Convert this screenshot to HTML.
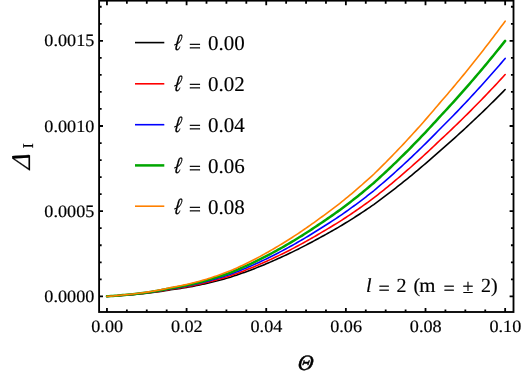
<!DOCTYPE html>
<html><head><meta charset="utf-8"><title>plot</title>
<style>html,body{margin:0;padding:0;background:#fff;overflow:hidden}body{width:523px;height:381px;position:relative;font-family:"Liberation Serif",serif}</style></head>
<body>
<svg width="523" height="381" viewBox="0 0 523 381" style="position:absolute;left:0;top:0;will-change:transform" text-rendering="geometricPrecision">
<rect x="0" y="0" width="523" height="381" fill="#ffffff"/>
<polyline fill="none" stroke="#000000" stroke-width="1.6" stroke-linecap="round" stroke-linejoin="round" points="106.95,296.35 108.94,296.26 110.93,296.16 112.92,296.04 114.91,295.92 116.91,295.79 118.90,295.64 120.89,295.49 122.88,295.33 124.87,295.20 126.86,295.06 128.85,294.91 130.84,294.75 132.83,294.58 134.82,294.40 136.81,294.21 138.81,294.01 140.80,293.81 142.79,293.62 144.78,293.41 146.77,293.20 148.76,292.97 150.75,292.74 152.74,292.49 154.73,292.24 156.72,291.97 158.72,291.69 160.71,291.40 162.70,291.09 164.69,290.77 166.68,290.44 168.67,290.10 170.66,289.78 172.65,289.52 174.64,289.25 176.63,288.97 178.63,288.68 180.62,288.37 182.61,288.06 184.60,287.73 186.59,287.40 188.58,287.06 190.57,286.70 192.56,286.34 194.55,285.96 196.55,285.57 198.54,285.18 200.53,284.77 202.52,284.33 204.51,283.89 206.50,283.43 208.49,282.97 210.48,282.49 212.47,282.01 214.46,281.51 216.45,281.00 218.45,280.49 220.44,279.96 222.43,279.42 224.42,278.88 226.41,278.32 228.40,277.75 230.39,277.17 232.38,276.52 234.37,275.85 236.37,275.18 238.36,274.49 240.35,273.80 242.34,273.09 244.33,272.38 246.32,271.65 248.31,270.92 250.30,270.17 252.29,269.41 254.28,268.65 256.27,267.87 258.27,267.07 260.26,266.27 262.25,265.46 264.24,264.64 266.23,263.81 268.22,262.97 270.21,262.11 272.20,261.25 274.19,260.38 276.19,259.49 278.18,258.60 280.17,257.69 282.16,256.79 284.15,255.87 286.14,254.94 288.13,254.00 290.12,253.06 292.11,252.10 294.10,251.13 296.09,250.15 298.09,249.16 300.08,248.16 302.07,247.15 304.06,246.13 306.05,245.10 308.04,244.06 310.03,243.00 312.02,241.94 314.01,240.87 316.00,239.79 318.00,238.69 319.99,237.59 321.98,236.52 323.97,235.44 325.96,234.34 327.95,233.24 329.94,232.13 331.93,231.00 333.92,229.87 335.91,228.72 337.91,227.57 339.90,226.40 341.89,225.23 343.88,224.02 345.87,222.80 347.86,221.56 349.85,220.32 351.84,219.07 353.83,217.81 355.82,216.54 357.82,215.25 359.81,213.96 361.80,212.65 363.79,211.32 365.78,209.99 367.77,208.65 369.76,207.29 371.75,205.93 373.74,204.56 375.74,203.11 377.73,201.65 379.72,200.18 381.71,198.69 383.70,197.20 385.69,195.70 387.68,194.19 389.67,192.67 391.66,191.13 393.65,189.59 395.64,188.04 397.64,186.47 399.63,184.90 401.62,183.32 403.61,181.73 405.60,180.12 407.59,178.51 409.58,176.89 411.57,175.26 413.56,173.61 415.55,171.96 417.55,170.29 419.54,168.62 421.53,166.93 423.52,165.24 425.51,163.53 427.50,161.82 429.49,160.09 431.48,158.35 433.47,156.61 435.46,154.85 437.46,153.08 439.45,151.30 441.44,149.58 443.43,147.86 445.42,146.12 447.41,144.38 449.40,142.63 451.39,140.87 453.38,139.09 455.37,137.31 457.37,135.51 459.36,133.71 461.35,131.90 463.34,130.07 465.33,128.24 467.32,126.39 469.31,124.53 471.30,122.67 473.29,120.79 475.28,118.91 477.28,117.03 479.27,115.13 481.26,113.23 483.25,111.31 485.24,109.38 487.23,107.45 489.22,105.50 491.21,103.54 493.20,101.57 495.19,99.59 497.19,97.60 499.18,95.61 501.17,93.60 503.16,91.58 505.15,89.55"/>
<polyline fill="none" stroke="#ff0000" stroke-width="1.6" stroke-linecap="round" stroke-linejoin="round" points="106.95,296.35 108.94,296.25 110.93,296.14 112.92,296.02 114.91,295.89 116.91,295.75 118.90,295.59 120.89,295.43 122.88,295.25 124.87,295.11 126.86,294.96 128.85,294.81 130.84,294.63 132.83,294.45 134.82,294.26 136.81,294.06 138.81,293.84 140.80,293.63 142.79,293.42 144.78,293.20 146.77,292.97 148.76,292.73 150.75,292.47 152.74,292.21 154.73,291.94 156.72,291.65 158.72,291.35 160.71,291.04 162.70,290.71 164.69,290.36 166.68,290.01 168.67,289.64 170.66,289.31 172.65,289.03 174.64,288.74 176.63,288.43 178.63,288.12 180.62,287.79 182.61,287.46 184.60,287.11 186.59,286.75 188.58,286.38 190.57,286.00 192.56,285.61 194.55,285.21 196.55,284.79 198.54,284.37 200.53,283.93 202.52,283.46 204.51,282.99 206.50,282.50 208.49,282.00 210.48,281.49 212.47,280.97 214.46,280.44 216.45,279.89 218.45,279.34 220.44,278.77 222.43,278.20 224.42,277.61 226.41,277.01 228.40,276.40 230.39,275.78 232.38,275.08 234.37,274.37 236.37,273.64 238.36,272.91 240.35,272.16 242.34,271.41 244.33,270.64 246.32,269.86 248.31,269.07 250.30,268.27 252.29,267.46 254.28,266.64 256.27,265.80 258.27,264.95 260.26,264.09 262.25,263.22 264.24,262.34 266.23,261.45 268.22,260.55 270.21,259.63 272.20,258.71 274.19,257.77 276.19,256.82 278.18,255.86 280.17,254.89 282.16,253.92 284.15,252.94 286.14,251.94 288.13,250.93 290.12,249.92 292.11,248.89 294.10,247.85 296.09,246.80 298.09,245.74 300.08,244.67 302.07,243.58 304.06,242.49 306.05,241.38 308.04,240.27 310.03,239.14 312.02,238.00 314.01,236.85 316.00,235.69 318.00,234.51 319.99,233.33 321.98,232.18 323.97,231.02 325.96,229.85 327.95,228.67 329.94,227.47 331.93,226.27 333.92,225.05 335.91,223.82 337.91,222.58 339.90,221.33 341.89,220.07 343.88,218.77 345.87,217.46 347.86,216.14 349.85,214.81 351.84,213.47 353.83,212.11 355.82,210.75 357.82,209.37 359.81,207.99 361.80,206.58 363.79,205.16 365.78,203.73 367.77,202.29 369.76,200.84 371.75,199.38 373.74,197.90 375.74,196.35 377.73,194.78 379.72,193.20 381.71,191.62 383.70,190.02 385.69,188.41 387.68,186.78 389.67,185.15 391.66,183.51 393.65,181.85 395.64,180.19 397.64,178.51 399.63,176.82 401.62,175.13 403.61,173.42 405.60,171.70 407.59,169.97 409.58,168.23 411.57,166.48 413.56,164.72 415.55,162.94 417.55,161.16 419.54,159.36 421.53,157.55 423.52,155.74 425.51,153.91 427.50,152.07 429.49,150.21 431.48,148.35 433.47,146.48 435.46,144.59 437.46,142.70 439.45,140.79 441.44,138.94 443.43,137.09 445.42,135.23 447.41,133.37 449.40,131.49 451.39,129.60 453.38,127.69 455.37,125.78 457.37,123.86 459.36,121.92 461.35,119.97 463.34,118.02 465.33,116.05 467.32,114.07 469.31,112.08 471.30,110.08 473.29,108.06 475.28,106.05 477.28,104.03 479.27,102.00 481.26,99.95 483.25,97.90 485.24,95.83 487.23,93.75 489.22,91.66 491.21,89.56 493.20,87.45 495.19,85.33 497.19,83.20 499.18,81.05 501.17,78.90 503.16,76.73 505.15,74.55"/>
<polyline fill="none" stroke="#0000ff" stroke-width="1.6" stroke-linecap="round" stroke-linejoin="round" points="106.95,296.35 108.94,296.24 110.93,296.13 112.92,296.00 114.91,295.86 116.91,295.70 118.90,295.54 120.89,295.36 122.88,295.17 124.87,295.02 126.86,294.86 128.85,294.69 130.84,294.51 132.83,294.31 134.82,294.11 136.81,293.89 138.81,293.66 140.80,293.43 142.79,293.21 144.78,292.97 146.77,292.72 148.76,292.46 150.75,292.19 152.74,291.91 154.73,291.62 156.72,291.31 158.72,290.99 160.71,290.66 162.70,290.30 164.69,289.93 166.68,289.55 168.67,289.16 170.66,288.80 172.65,288.50 174.64,288.18 176.63,287.86 178.63,287.52 180.62,287.17 182.61,286.81 184.60,286.44 186.59,286.05 188.58,285.66 190.57,285.25 192.56,284.83 194.55,284.40 196.55,283.95 198.54,283.50 200.53,283.03 202.52,282.53 204.51,282.02 206.50,281.49 208.49,280.96 210.48,280.41 212.47,279.85 214.46,279.28 216.45,278.70 218.45,278.10 220.44,277.50 222.43,276.88 224.42,276.25 226.41,275.61 228.40,274.95 230.39,274.29 232.38,273.53 234.37,272.77 236.37,272.00 238.36,271.21 240.35,270.41 242.34,269.60 244.33,268.77 246.32,267.94 248.31,267.09 250.30,266.23 252.29,265.36 254.28,264.48 256.27,263.58 258.27,262.67 260.26,261.75 262.25,260.82 264.24,259.87 266.23,258.92 268.22,257.95 270.21,256.97 272.20,255.97 274.19,254.97 276.19,253.95 278.18,252.92 280.17,251.88 282.16,250.84 284.15,249.78 286.14,248.72 288.13,247.64 290.12,246.55 292.11,245.45 294.10,244.33 296.09,243.20 298.09,242.07 300.08,240.92 302.07,239.75 304.06,238.58 306.05,237.39 308.04,236.19 310.03,234.99 312.02,233.76 314.01,232.53 316.00,231.28 318.00,230.03 319.99,228.76 321.98,227.52 323.97,226.28 325.96,225.02 327.95,223.75 329.94,222.47 331.93,221.18 333.92,219.87 335.91,218.56 337.91,217.23 339.90,215.89 341.89,214.54 343.88,213.14 345.87,211.74 347.86,210.32 349.85,208.89 351.84,207.45 353.83,206.00 355.82,204.54 357.82,203.06 359.81,201.57 361.80,200.06 363.79,198.54 365.78,197.01 367.77,195.46 369.76,193.91 371.75,192.34 373.74,190.76 375.74,189.09 377.73,187.41 379.72,185.72 381.71,184.01 383.70,182.30 385.69,180.57 387.68,178.83 389.67,177.08 391.66,175.32 393.65,173.54 395.64,171.76 397.64,169.96 399.63,168.15 401.62,166.33 403.61,164.50 405.60,162.65 407.59,160.80 409.58,158.93 411.57,157.05 413.56,155.16 415.55,153.26 417.55,151.34 419.54,149.42 421.53,147.48 423.52,145.53 425.51,143.57 427.50,141.59 429.49,139.61 431.48,137.61 433.47,135.60 435.46,133.58 437.46,131.55 439.45,129.50 441.44,127.51 443.43,125.53 445.42,123.54 447.41,121.54 449.40,119.52 451.39,117.49 453.38,115.45 455.37,113.40 457.37,111.34 459.36,109.26 461.35,107.17 463.34,105.07 465.33,102.96 467.32,100.84 469.31,98.70 471.30,96.56 473.29,94.40 475.28,92.24 477.28,90.07 479.27,87.89 481.26,85.70 483.25,83.49 485.24,81.28 487.23,79.05 489.22,76.81 491.21,74.56 493.20,72.29 495.19,70.02 497.19,67.73 499.18,65.43 501.17,63.12 503.16,60.79 505.15,58.46"/>
<polyline fill="none" stroke="#00a600" stroke-width="2.5" stroke-linecap="round" stroke-linejoin="round" points="106.95,296.35 108.94,296.24 110.93,296.11 112.92,295.97 114.91,295.82 116.91,295.65 118.90,295.48 120.89,295.29 122.88,295.08 124.87,294.93 126.86,294.75 128.85,294.57 130.84,294.37 132.83,294.16 134.82,293.94 136.81,293.71 138.81,293.46 140.80,293.21 142.79,292.97 144.78,292.72 146.77,292.45 148.76,292.18 150.75,291.89 152.74,291.58 154.73,291.27 156.72,290.94 158.72,290.60 160.71,290.23 162.70,289.85 164.69,289.45 166.68,289.05 168.67,288.62 170.66,288.24 172.65,287.92 174.64,287.58 176.63,287.23 178.63,286.87 180.62,286.49 182.61,286.11 184.60,285.71 186.59,285.29 188.58,284.87 190.57,284.43 192.56,283.98 194.55,283.51 196.55,283.04 198.54,282.55 200.53,282.04 202.52,281.50 204.51,280.95 206.50,280.39 208.49,279.82 210.48,279.23 212.47,278.63 214.46,278.02 216.45,277.39 218.45,276.75 220.44,276.10 222.43,275.44 224.42,274.76 226.41,274.07 228.40,273.37 230.39,272.65 232.38,271.85 234.37,271.03 236.37,270.19 238.36,269.35 240.35,268.49 242.34,267.62 244.33,266.73 246.32,265.84 248.31,264.93 250.30,264.01 252.29,263.07 254.28,262.12 256.27,261.16 258.27,260.18 260.26,259.19 262.25,258.19 264.24,257.18 266.23,256.15 268.22,255.11 270.21,254.05 272.20,252.99 274.19,251.91 276.19,250.82 278.18,249.71 280.17,248.59 282.16,247.47 284.15,246.34 286.14,245.19 288.13,244.04 290.12,242.86 292.11,241.68 294.10,240.48 296.09,239.27 298.09,238.05 300.08,236.81 302.07,235.57 304.06,234.31 306.05,233.03 308.04,231.75 310.03,230.45 312.02,229.13 314.01,227.81 316.00,226.47 318.00,225.12 319.99,223.76 321.98,222.43 323.97,221.10 325.96,219.75 327.95,218.38 329.94,217.01 331.93,215.62 333.92,214.22 335.91,212.80 337.91,211.38 339.90,209.94 341.89,208.48 343.88,206.99 345.87,205.48 347.86,203.96 349.85,202.42 351.84,200.88 353.83,199.32 355.82,197.75 357.82,196.16 359.81,194.56 361.80,192.94 363.79,191.31 365.78,189.66 367.77,188.00 369.76,186.33 371.75,184.64 373.74,182.95 375.74,181.15 377.73,179.35 379.72,177.53 381.71,175.70 383.70,173.86 385.69,172.01 387.68,170.14 389.67,168.26 391.66,166.36 393.65,164.46 395.64,162.54 397.64,160.61 399.63,158.66 401.62,156.71 403.61,154.74 405.60,152.76 407.59,150.77 409.58,148.77 411.57,146.75 413.56,144.72 415.55,142.67 417.55,140.62 419.54,138.55 421.53,136.47 423.52,134.37 425.51,132.27 427.50,130.15 429.49,128.01 431.48,125.87 433.47,123.71 435.46,121.54 437.46,119.35 439.45,117.16 441.44,115.02 443.43,112.90 445.42,110.76 447.41,108.61 449.40,106.44 451.39,104.26 453.38,102.07 455.37,99.87 457.37,97.65 459.36,95.42 461.35,93.18 463.34,90.93 465.33,88.66 467.32,86.38 469.31,84.08 471.30,81.78 473.29,79.46 475.28,77.14 477.28,74.81 479.27,72.47 481.26,70.12 483.25,67.75 485.24,65.37 487.23,62.97 489.22,60.57 491.21,58.15 493.20,55.72 495.19,53.27 497.19,50.82 499.18,48.35 501.17,45.86 503.16,43.37 505.15,40.86"/>
<polyline fill="none" stroke="#ff8000" stroke-width="1.6" stroke-linecap="round" stroke-linejoin="round" points="106.95,296.35 108.94,296.23 110.93,296.09 112.92,295.94 114.91,295.78 116.91,295.60 118.90,295.41 120.89,295.21 122.88,294.99 124.87,294.82 126.86,294.63 128.85,294.43 130.84,294.22 132.83,294.00 134.82,293.76 136.81,293.50 138.81,293.24 140.80,292.97 142.79,292.71 144.78,292.44 146.77,292.16 148.76,291.86 150.75,291.54 152.74,291.22 154.73,290.88 156.72,290.52 158.72,290.15 160.71,289.76 162.70,289.35 164.69,288.92 166.68,288.48 168.67,288.03 170.66,287.62 172.65,287.27 174.64,286.90 176.63,286.53 178.63,286.14 180.62,285.74 182.61,285.32 184.60,284.89 186.59,284.44 188.58,283.98 190.57,283.51 192.56,283.03 194.55,282.53 196.55,282.01 198.54,281.48 200.53,280.94 202.52,280.36 204.51,279.77 206.50,279.17 208.49,278.55 210.48,277.91 212.47,277.27 214.46,276.61 216.45,275.93 218.45,275.25 220.44,274.54 222.43,273.83 224.42,273.10 226.41,272.36 228.40,271.60 230.39,270.83 232.38,269.96 234.37,269.08 236.37,268.18 238.36,267.27 240.35,266.35 242.34,265.41 244.33,264.46 246.32,263.49 248.31,262.51 250.30,261.52 252.29,260.51 254.28,259.49 256.27,258.45 258.27,257.40 260.26,256.33 262.25,255.25 264.24,254.16 266.23,253.05 268.22,251.93 270.21,250.80 272.20,249.65 274.19,248.49 276.19,247.31 278.18,246.12 280.17,244.92 282.16,243.71 284.15,242.49 286.14,241.26 288.13,240.01 290.12,238.75 292.11,237.47 294.10,236.18 296.09,234.88 298.09,233.56 300.08,232.23 302.07,230.89 304.06,229.53 306.05,228.16 308.04,226.77 310.03,225.37 312.02,223.96 314.01,222.54 316.00,221.09 318.00,219.64 319.99,218.17 321.98,216.75 323.97,215.31 325.96,213.85 327.95,212.38 329.94,210.90 331.93,209.41 333.92,207.90 335.91,206.38 337.91,204.84 339.90,203.29 341.89,201.72 343.88,200.11 345.87,198.49 347.86,196.85 349.85,195.20 351.84,193.53 353.83,191.85 355.82,190.16 357.82,188.45 359.81,186.73 361.80,184.98 363.79,183.22 365.78,181.45 367.77,179.66 369.76,177.86 371.75,176.05 373.74,174.22 375.74,172.29 377.73,170.35 379.72,168.39 381.71,166.42 383.70,164.44 385.69,162.44 387.68,160.43 389.67,158.40 391.66,156.36 393.65,154.31 395.64,152.24 397.64,150.16 399.63,148.07 401.62,145.96 403.61,143.85 405.60,141.71 407.59,139.57 409.58,137.41 411.57,135.24 413.56,133.05 415.55,130.85 417.55,128.64 419.54,126.41 421.53,124.17 423.52,121.91 425.51,119.64 427.50,117.36 429.49,115.06 431.48,112.75 433.47,110.43 435.46,108.09 437.46,105.74 439.45,103.37 441.44,101.07 443.43,98.78 445.42,96.48 447.41,94.16 449.40,91.83 451.39,89.48 453.38,87.12 455.37,84.75 457.37,82.36 459.36,79.96 461.35,77.55 463.34,75.12 465.33,72.68 467.32,70.22 469.31,67.75 471.30,65.27 473.29,62.77 475.28,60.28 477.28,57.77 479.27,55.25 481.26,52.71 483.25,50.16 485.24,47.60 487.23,45.02 489.22,42.43 491.21,39.82 493.20,37.20 495.19,34.57 497.19,31.92 499.18,29.26 501.17,26.59 503.16,23.90 505.15,21.20"/>
<rect x="99.1" y="0.65" width="414.4" height="311.35" fill="none" stroke="#000" stroke-width="1.85"/>
<path d="M106.95 312.00V308.10M106.95 0.65V5.15M126.86 312.00V309.45M126.86 0.65V3.80M146.77 312.00V309.45M146.77 0.65V3.80M166.68 312.00V309.45M166.68 0.65V3.80M186.59 312.00V308.10M186.59 0.65V5.15M206.50 312.00V309.45M206.50 0.65V3.80M226.41 312.00V309.45M226.41 0.65V3.80M246.32 312.00V309.45M246.32 0.65V3.80M266.23 312.00V308.10M266.23 0.65V5.15M286.14 312.00V309.45M286.14 0.65V3.80M306.05 312.00V309.45M306.05 0.65V3.80M325.96 312.00V309.45M325.96 0.65V3.80M345.87 312.00V308.10M345.87 0.65V5.15M365.78 312.00V309.45M365.78 0.65V3.80M385.69 312.00V309.45M385.69 0.65V3.80M405.60 312.00V309.45M405.60 0.65V3.80M425.51 312.00V308.10M425.51 0.65V5.15M445.42 312.00V309.45M445.42 0.65V3.80M465.33 312.00V309.45M465.33 0.65V3.80M485.24 312.00V309.45M485.24 0.65V3.80M505.15 312.00V308.10M505.15 0.65V5.15M99.10 296.35H103.00M513.50 296.35H509.60M99.10 279.31H101.65M513.50 279.31H510.95M99.10 262.28H101.65M513.50 262.28H510.95M99.10 245.25H101.65M513.50 245.25H510.95M99.10 228.21H101.65M513.50 228.21H510.95M99.10 211.18H103.00M513.50 211.18H509.60M99.10 194.14H101.65M513.50 194.14H510.95M99.10 177.11H101.65M513.50 177.11H510.95M99.10 160.07H101.65M513.50 160.07H510.95M99.10 143.03H101.65M513.50 143.03H510.95M99.10 126.00H103.00M513.50 126.00H509.60M99.10 108.97H101.65M513.50 108.97H510.95M99.10 91.93H101.65M513.50 91.93H510.95M99.10 74.89H101.65M513.50 74.89H510.95M99.10 57.86H101.65M513.50 57.86H510.95M99.10 40.83H103.00M513.50 40.83H509.60M99.10 23.79H101.65M513.50 23.79H510.95M99.10 6.75H101.65M513.50 6.75H510.95" stroke="#000" stroke-width="1.8" fill="none"/>
<g font-family="Liberation Serif, serif" font-size="17.4" fill="#000" stroke="#000" stroke-width="0.18">
<text transform="translate(107.15,332.1) scale(1.044,1)" text-anchor="middle">0.00</text>
<text transform="translate(186.79,332.1) scale(1.044,1)" text-anchor="middle">0.02</text>
<text transform="translate(266.43,332.1) scale(1.044,1)" text-anchor="middle">0.04</text>
<text transform="translate(346.07,332.1) scale(1.044,1)" text-anchor="middle">0.06</text>
<text transform="translate(425.71,332.1) scale(1.044,1)" text-anchor="middle">0.08</text>
<text transform="translate(505.35,332.1) scale(1.044,1)" text-anchor="middle">0.10</text>
<text transform="translate(94.3,302.00) scale(1.044,1)" text-anchor="end">0.0000</text>
<text transform="translate(94.3,216.83) scale(1.044,1)" text-anchor="end">0.0005</text>
<text transform="translate(94.3,131.65) scale(1.044,1)" text-anchor="end">0.0010</text>
<text transform="translate(94.3,46.48) scale(1.044,1)" text-anchor="end">0.0015</text>
</g>
<g font-family="Liberation Serif, serif" font-size="21" fill="#000" stroke="#000" stroke-width="0.12">
<line x1="135" x2="164.3" y1="42.6" y2="42.6" stroke="#000000" stroke-width="1.6"/>
<text transform="translate(173.3,50.4) matrix(0.80 0 -0.13 1.03 0 0)" font-style="italic" font-size="22.5" stroke-width="0.24">ℓ</text>
<text transform="translate(189.0,51.55) scale(1,0.84)" stroke-width="0.5">=</text>
<text x="208.0" y="50.0">0.00</text>
<line x1="135" x2="164.3" y1="83.8" y2="83.8" stroke="#ff0000" stroke-width="1.6"/>
<text transform="translate(173.3,91.3) matrix(0.80 0 -0.13 1.03 0 0)" font-style="italic" font-size="22.5" stroke-width="0.24">ℓ</text>
<text transform="translate(189.0,92.45) scale(1,0.84)" stroke-width="0.5">=</text>
<text x="208.0" y="90.9">0.02</text>
<line x1="135" x2="164.3" y1="124.7" y2="124.7" stroke="#0000ff" stroke-width="1.6"/>
<text transform="translate(173.3,132.20000000000002) matrix(0.80 0 -0.13 1.03 0 0)" font-style="italic" font-size="22.5" stroke-width="0.24">ℓ</text>
<text transform="translate(189.0,133.35) scale(1,0.84)" stroke-width="0.5">=</text>
<text x="208.0" y="131.8">0.04</text>
<line x1="135" x2="164.3" y1="165.4" y2="165.4" stroke="#00a600" stroke-width="2.5"/>
<text transform="translate(173.3,173.20000000000002) matrix(0.80 0 -0.13 1.03 0 0)" font-style="italic" font-size="22.5" stroke-width="0.24">ℓ</text>
<text transform="translate(189.0,174.35) scale(1,0.84)" stroke-width="0.5">=</text>
<text x="208.0" y="172.8">0.06</text>
<line x1="135" x2="164.3" y1="206.2" y2="206.2" stroke="#ff8000" stroke-width="1.6"/>
<text transform="translate(173.3,214.10000000000002) matrix(0.80 0 -0.13 1.03 0 0)" font-style="italic" font-size="22.5" stroke-width="0.24">ℓ</text>
<text transform="translate(189.0,215.25) scale(1,0.84)" stroke-width="0.5">=</text>
<text x="208.0" y="213.70000000000002">0.08</text>
</g>
<g font-family="Liberation Serif, serif" font-size="20" fill="#000" stroke="#000" stroke-width="0.15">
<text x="365.9" y="292.4" font-style="italic" stroke-width="0.15">l</text>
<text x="378.5" y="294.7">=</text>
<text x="396.5" y="292.4">2</text>
<text x="413.5" y="292.4">(</text>
<text transform="translate(419.3,292.4) scale(1.04,1)">m</text>
<text x="443.6" y="294.7">=</text>
<text x="462.5" y="292.9">±</text>
<text x="480.9" y="292.4">2)</text>
</g>
<text transform="translate(297.3,370.0) matrix(0.98 0 -0.10 1 0 0)" font-family="Liberation Serif, serif" font-style="italic" font-size="22" fill="#000" stroke="#000" stroke-width="0.5">Θ</text>
<g transform="translate(29.9,169.5) rotate(-90)" font-family="Liberation Serif, serif" fill="#000" stroke="#000">
<text transform="matrix(0.99 0 -0.095 1 0 0)" font-style="italic" font-size="27" stroke-width="0.2">Δ</text>
<text x="21.3" y="3.3" font-size="15" stroke-width="0.25">I</text>
</g>
</svg>
</body></html>
